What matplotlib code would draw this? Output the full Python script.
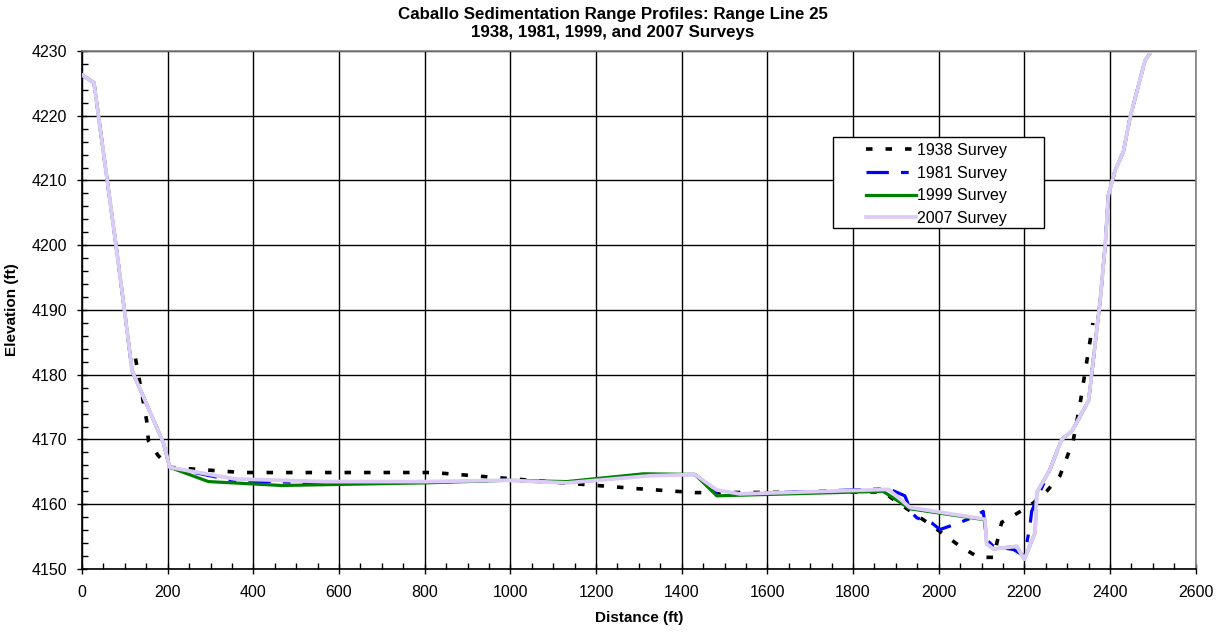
import matplotlib
matplotlib.use("Agg")
import matplotlib.pyplot as plt
from matplotlib.ticker import MultipleLocator
from matplotlib.patches import Rectangle

plt.rcParams['font.family'] = ['Liberation Sans', 'DejaVu Sans']

# ---- data ----
x1938 = [125, 151, 155, 178, 205, 373, 820, 991, 1163, 1298, 1431, 1473, 1870, 1910, 1980,
         2050, 2093, 2128, 2147, 2186, 2221, 2252, 2283, 2314, 2330, 2360]
y1938 = [4182.5, 4172.9, 4169.8, 4167.5, 4165.7, 4164.9, 4164.9, 4164.0, 4163.1, 4162.4,
         4161.8, 4161.8, 4161.9, 4160.0, 4156.9, 4153.5, 4151.8, 4151.8, 4157.2, 4158.7,
         4160.2, 4162.0, 4164.4, 4169.8, 4175.5, 4188.0]

x1981 = [0, 28, 81, 99, 117, 190, 205, 357, 567, 800, 991, 1132, 1326, 1431, 1482, 1536,
         1883, 1921, 1937, 1949, 1984, 2003, 2038, 2077, 2104, 2112, 2128, 2175, 2200, 2213,
         2217, 2237, 2260, 2287, 2311, 2350, 2377, 2389, 2396, 2412, 2431, 2447, 2482, 2492]
y1981 = [4226.3, 4225.1, 4199.2, 4190.0, 4180.6, 4169.5, 4165.7, 4163.6, 4163.3, 4163.4,
         4163.7, 4163.3, 4164.5, 4164.6, 4161.8, 4161.6, 4162.4, 4161.3, 4158.7, 4157.9,
         4157.1, 4156.1, 4156.9, 4157.9, 4158.9, 4154.5, 4153.5, 4153.0, 4152.0, 4156.6,
         4158.9, 4162.0, 4165.4, 4170.0, 4171.3, 4176.0, 4191.5, 4200.2, 4207.7, 4211.6,
         4214.4, 4219.8, 4228.6, 4229.5]

x1999 = [0, 28, 81, 99, 117, 190, 205, 295, 466, 800, 991, 1132, 1311, 1431, 1482, 1870,
         1933, 2108, 2112, 2128, 2182, 2200, 2225, 2229, 2260, 2287, 2311, 2350, 2377, 2389,
         2396, 2412, 2431, 2447, 2482, 2492]
y1999 = [4226.3, 4225.1, 4199.2, 4190.0, 4180.6, 4169.5, 4165.7, 4163.5, 4162.9, 4163.3,
         4163.7, 4163.5, 4164.7, 4164.6, 4161.3, 4162.0, 4159.3, 4157.6, 4153.9, 4153.1,
         4153.5, 4151.5, 4155.6, 4161.8, 4165.4, 4170.0, 4171.3, 4176.0, 4191.5, 4200.2,
         4207.7, 4211.6, 4214.4, 4219.8, 4228.6, 4229.5]

x2007 = [0, 28, 81, 99, 117, 190, 205, 357, 567, 800, 991, 1132, 1326, 1431, 1482, 1536,
         1883, 1933, 2108, 2112, 2128, 2182, 2200, 2225, 2229, 2260, 2287, 2311, 2350, 2377,
         2389, 2396, 2412, 2431, 2447, 2482, 2492]
y2007 = [4226.3, 4225.1, 4199.2, 4190.0, 4180.6, 4169.5, 4165.7, 4163.9, 4163.5, 4163.5,
         4163.7, 4163.3, 4164.4, 4164.6, 4162.2, 4161.6, 4162.3, 4159.5, 4157.7, 4153.9,
         4153.1, 4153.5, 4151.5, 4155.6, 4161.8, 4165.4, 4170.0, 4171.3, 4176.0, 4191.5,
         4200.2, 4207.7, 4211.6, 4214.4, 4219.8, 4228.6, 4229.5]

labels = ['1938 Survey', '1981 Survey', '1999 Survey', '2007 Survey']
title = 'Caballo Sedimentation Range Profiles: Range Line 25\n1938, 1981, 1999, and 2007 Surveys'

# ---- figure ----
W, H = 1225, 635
L, R, T, B = 82, 1195.7, 51, 569
fig = plt.figure(figsize=(12.25, 6.35), dpi=100)
ax = fig.add_axes([L / W, 1 - B / H, (R - L) / W, (B - T) / H])

l1, = ax.plot(x1938, y1938, color='black', lw=2.6, linestyle=(0, (1.8, 3.6)),
              dash_capstyle='butt', label=labels[0], zorder=3)
l2, = ax.plot(x1981, y1981, color='#0000ff', lw=2.3, linestyle=(0, (7, 3.8, 2.4, 3.8)),
              dash_capstyle='butt', label=labels[1], zorder=4)
l3, = ax.plot(x1999, y1999, color='#008000', lw=2.3, label=labels[2], zorder=5)
l4, = ax.plot(x2007, y2007, color='#dccbf7', lw=2.7, label=labels[3], zorder=6)

ax.set_xlim(0, 2600)
ax.set_ylim(4150, 4230)
ax.xaxis.set_major_locator(MultipleLocator(200))
ax.xaxis.set_minor_locator(MultipleLocator(50))
ax.yaxis.set_major_locator(MultipleLocator(10))
ax.yaxis.set_minor_locator(MultipleLocator(2))
ax.tick_params(which='major', direction='inout', length=7, width=1, labelsize=11.5)
ax.tick_params(axis='x', which='major', pad=8)
ax.tick_params(axis='y', which='major', pad=7)
ax.tick_params(which='minor', direction='in', length=4, width=1)
ax.tick_params(top=False, right=False, which='both')
ax.grid(True, which='major', color='black', lw=1.0)

for s in ['top', 'right']:
    ax.spines[s].set_color('#808080')
    ax.spines[s].set_linewidth(1.2)
for s in ['left', 'bottom']:
    ax.spines[s].set_color('black')
    ax.spines[s].set_linewidth(1.2)

ax.set_xlabel('Distance (ft)', fontsize=11, fontweight='bold', labelpad=8)
ax.set_ylabel('Elevation (ft)', fontsize=11, fontweight='bold', labelpad=9)
fig.text(0.5, 1 - 7 / H, title, fontsize=12.2, fontweight='bold', ha='center', va='top',
         linespacing=1.22)

# legend box (frame drawn separately to match padding)
bx0, bx1, by0, by1 = 833, 1044, 137, 228
frame = Rectangle(((bx0 - L) / (R - L), 1 - (by1 - T) / (B - T)),
                  (bx1 - bx0) / (R - L), (by1 - by0) / (B - T),
                  transform=ax.transAxes, facecolor='white', edgecolor='black',
                  lw=1.0, zorder=10)
ax.add_patch(frame)
leg = ax.legend(handles=[l1, l2, l3, l4], loc='upper left',
                bbox_to_anchor=((866 - L) / (R - L), 1 - (143 - T) / (B - T)),
                fontsize=11.5, frameon=False, borderpad=0, handlelength=3.1,
                handletextpad=0.1, labelspacing=0.48, borderaxespad=0)
leg.set_zorder(11)

fig.savefig('out.png', dpi=100)
